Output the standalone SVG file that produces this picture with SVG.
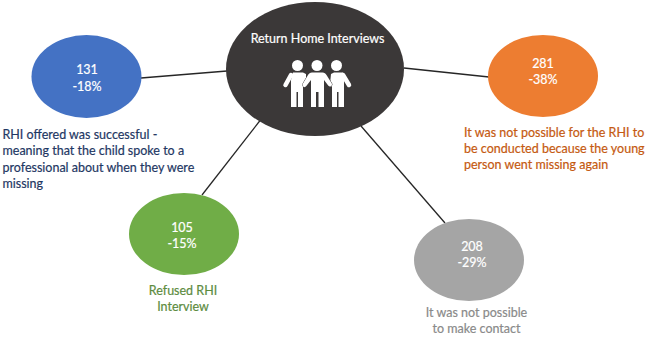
<svg xmlns="http://www.w3.org/2000/svg" width="645" height="342" viewBox="0 0 645 342">
<style>
text{font-family:"Lato","Open Sans",sans-serif;font-size:12.5px;stroke-width:.2}
.c{text-anchor:middle}
.w{fill:#fff;stroke:#fff}
.blue{fill:#1f3864;stroke:#1f3864}
.orange{fill:#c55a11;stroke:#c55a11}
.green{fill:#5d8c3f;stroke:#5d8c3f}
.grey{fill:#8a8a8a;stroke:#8a8a8a}
.ln{stroke:#262626;stroke-width:1.3;fill:none}
.p{fill:#fff}
.arm{stroke:#fff;stroke-width:4.500;stroke-linecap:round;fill:none}
.front{fill:#fff;stroke:#3b3838;stroke-width:1;paint-order:stroke}
</style>
<rect width="645" height="342" fill="#fff"/>
<g id="connectors">
<line class="ln" x1="141" y1="78" x2="227" y2="71"/>
<line class="ln" x1="404" y1="68" x2="489" y2="77"/>
<line class="ln" x1="262" y1="118" x2="202" y2="195"/>
<line class="ln" x1="361" y1="126" x2="445" y2="223"/>
</g>
<g id="node-center">
<ellipse cx="315" cy="69" rx="89" ry="67" fill="#3b3838"/>
<text class="c w" x="317.500" y="43">Return Home Interviews</text>
<g id="people" class="p">
<circle cx="297.500" cy="65.500" r="5.500"/><circle cx="317" cy="65.500" r="5.500"/><circle cx="336.500" cy="65.500" r="5.500"/>
<line class="arm" x1="291" y1="75" x2="285.500" y2="85"/>
<line class="arm" x1="343" y1="75" x2="349" y2="85"/>
<path d="M293 72.500h10l3 1.500v10l-3 3v20h-5V92h-1.500v15H291V80z"/>
<path d="M331 74l3-1.500h9l1 7.500v27h-5.500V92H337v15h-5V87l-2-3z"/>
<path class="front" d="M312 72.500h10.500c2 0 3 1 4 2.500l5 8c.8 1.500.5 2.500-.5 3.200-1 .7-2 .3-2.800-.8L324 80v27h-5.500V92h-2.500v15h-5V80l-4.700 6c-.8 1.100-1.800 1.500-2.800.8-1-.7-1.300-1.700-.5-3.200l5-8.600c1-1.500 2-2.500 4-2.500z"/>
</g>
</g>
<g id="node-131">
<ellipse cx="86.500" cy="76.500" rx="55" ry="41.500" fill="#4472c4"/>
<text class="c w" x="87" y="74">131</text><text class="c w" x="87" y="91">-18%</text>
<text class="blue" x="2.500" y="139">RHI offered was successful -</text><text class="blue" x="2.500" y="155">meaning that the child spoke to a</text><text class="blue" x="2.500" y="172">professional about when they were</text><text class="blue" x="2.500" y="188">missing</text>
</g>
<g id="node-281">
<ellipse cx="543" cy="76" rx="55" ry="41" fill="#ed7d31"/>
<text class="c w" x="543" y="67.500">281</text><text class="c w" x="543" y="83.500">-38%</text>
<text class="orange" x="464" y="136.500">It was not possible for the RHI to</text><text class="orange" x="464" y="153">be conducted because the young</text><text class="orange" x="464" y="169">person went missing again</text>
</g>
<g id="node-105">
<ellipse cx="184" cy="234" rx="55" ry="41" fill="#70ad47"/>
<text class="c w" x="182" y="232">105</text><text class="c w" x="182" y="248">-15%</text>
<text class="c green" x="183" y="295">Refused RHI</text><text class="c green" x="183" y="311">Interview</text>
</g>
<g id="node-208">
<ellipse cx="469" cy="260" rx="55" ry="41" fill="#a5a5a5"/>
<text class="c w" x="472" y="251">208</text><text class="c w" x="472" y="267">-29%</text>
<text class="c grey" x="476.500" y="316.500">It was not possible</text><text class="c grey" x="476.500" y="333">to make contact</text>
</g>
</svg>
